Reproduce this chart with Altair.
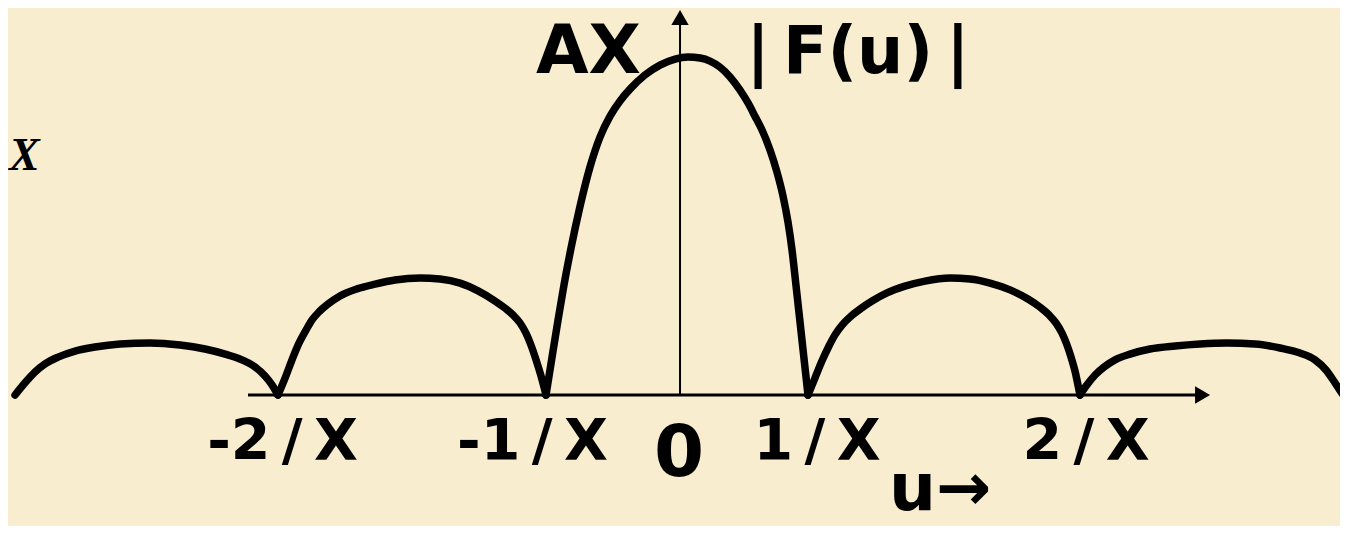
import altair as alt
import pandas as pd

BG = "#F9EDCF"

# Curve |F(u)|: u in units of the main-lobe half width, v relative to the peak AX
outer_left_u = [-5.053, -4.977, -4.901, -4.824, -4.725, -4.595, -4.443, -4.252, -4.023, -3.794, -3.603,
                -3.450, -3.321, -3.221, -3.145, -3.092, -3.046]
outer_left_v = [0.0, 0.036, 0.068, 0.092, 0.112, 0.130, 0.142, 0.151, 0.154, 0.148, 0.136,
                0.121, 0.104, 0.083, 0.056, 0.030, 0.0]

side_left_u = [-3.046, -2.992, -2.939, -2.885, -2.832, -2.786, -2.733, -2.664, -2.573, -2.443, -2.305,
               -2.153, -1.962, -1.809, -1.656, -1.519, -1.389, -1.313, -1.252, -1.198, -1.153, -1.115,
               -1.076, -1.038, -1.0]
side_left_v = [0.0, 0.050, 0.104, 0.154, 0.192, 0.222, 0.246, 0.269, 0.293, 0.314, 0.328,
               0.340, 0.346, 0.343, 0.331, 0.308, 0.278, 0.257, 0.237, 0.213, 0.183, 0.148,
               0.104, 0.056, 0.0]

main_u = [-1.0, -0.954, -0.908, -0.863, -0.809, -0.740, -0.664, -0.588, -0.511, -0.435, -0.359, -0.244,
          -0.130, -0.015, 0.084, 0.176, 0.252, 0.328, 0.405, 0.481, 0.542, 0.595, 0.649, 0.710,
          0.763, 0.809, 0.847, 0.878, 0.908, 0.939, 0.969, 1.0]
main_v = [0.0, 0.112, 0.222, 0.325, 0.435, 0.559, 0.675, 0.763, 0.825, 0.870, 0.905, 0.947,
          0.976, 0.994, 1.0, 0.997, 0.988, 0.970, 0.941, 0.902, 0.864, 0.825, 0.784, 0.725,
          0.660, 0.589, 0.512, 0.429, 0.325, 0.216, 0.109, 0.0]

side_right_u = [1.0, 1.053, 1.107, 1.160, 1.206, 1.260, 1.321, 1.397, 1.489, 1.603, 1.740, 1.893,
                2.084, 2.237, 2.389, 2.542, 2.679, 2.771, 2.840, 2.893, 2.939, 2.977, 3.008, 3.038, 3.076]
side_right_v = [0.0, 0.050, 0.101, 0.145, 0.178, 0.207, 0.231, 0.254, 0.278, 0.302, 0.322, 0.337,
                0.346, 0.343, 0.331, 0.311, 0.284, 0.260, 0.237, 0.213, 0.183, 0.148, 0.112, 0.071, 0.0]

outer_right_u = [3.076, 3.130, 3.191, 3.260, 3.344, 3.458, 3.611, 3.802, 3.992, 4.198, 4.412,
                 4.603, 4.756, 4.870, 4.954, 5.023, 5.084]
outer_right_v = [0.0, 0.030, 0.059, 0.083, 0.104, 0.121, 0.136, 0.145, 0.151, 0.154, 0.151,
                 0.139, 0.124, 0.104, 0.074, 0.036, 0.0]

# Axes (u axis and |F| axis with arrow heads)
h_axis_start, h_axis_end = -3.275, 4.012
v_axis_u, v_axis_end = 0.023, 1.117

# Labels
tick_texts = ["-2\u2009/\u2009X", "-1\u2009/\u2009X", "0", "1\u2009/\u2009X", "2\u2009/\u2009X"]
tick_u = [-3.011, -1.103, 0.015, 1.069, 3.122]
tick_v = [-0.192, -0.192, -0.240, -0.192, -0.192]
tick_size = [57, 57, 72, 57, 57]

title_texts = ["AX", "|\u2009F(u)\u2009|", "u→"]
title_u = [-0.676, 1.382, 2.008]
title_v = [0.953, 0.953, -0.340]
title_size = [68, 65, 66]

side_text = ["X"]
side_u = [-5.099]
side_v = [0.666]


def lobe(name, us, vs):
    return pd.DataFrame({"u": us, "v": vs, "lobe": name})


curve = pd.concat([
    lobe("a", outer_left_u, outer_left_v),
    lobe("b", side_left_u, side_left_v),
    lobe("c", main_u, main_v),
    lobe("d", side_right_u, side_right_v),
    lobe("e", outer_right_u, outer_right_v),
], ignore_index=True)

xs = alt.Scale(domain=[-5.107, 5.061], nice=False, zero=False)
ys = alt.Scale(domain=[-0.3876, 1.145], nice=False, zero=False)
X = lambda f: alt.X(f, type="quantitative", scale=xs, axis=None)
Y = lambda f: alt.Y(f, type="quantitative", scale=ys, axis=None)

line = alt.Chart(curve).mark_line(
    interpolate="monotone", color="black", strokeWidth=7.5, strokeCap="round", strokeJoin="round"
).encode(x=X("u"), y=Y("v"), detail="lobe:N")

h_rule = alt.Chart(pd.DataFrame({"u": [h_axis_start], "u2": [h_axis_end], "v": [0.0]})).mark_rule(
    color="black", strokeWidth=3
).encode(x=X("u"), x2="u2:Q", y=Y("v"))

v_rule = alt.Chart(pd.DataFrame({"u": [v_axis_u], "v": [0.0], "v2": [v_axis_end]})).mark_rule(
    color="black", strokeWidth=2
).encode(x=X("u"), y=Y("v"), y2="v2:Q")

arrows = alt.Chart(pd.DataFrame({
    "u": [h_axis_end, v_axis_u], "v": [0.0, v_axis_end], "shape": ["triangle-right", "triangle-up"]
})).mark_point(filled=True, color="black", size=300, opacity=1).encode(
    x=X("u"), y=Y("v"), shape=alt.Shape("shape:N", scale=None)
)

labels = pd.DataFrame({
    "text": tick_texts + title_texts,
    "u": tick_u + title_u,
    "v": tick_v + title_v,
    "size": tick_size + title_size,
})
text_bold = alt.Chart(labels).mark_text(
    font="DejaVu Sans", fontWeight="bold", align="center", baseline="alphabetic", color="black"
).encode(x=X("u"), y=Y("v"), text="text:N", size=alt.Size("size:Q", scale=None))

text_side = alt.Chart(pd.DataFrame({"text": side_text, "u": side_u, "v": side_v})).mark_text(
    font="Liberation Serif", fontWeight="bold", fontStyle="italic", align="left",
    baseline="alphabetic", fontSize=46, color="black"
).encode(x=X("u"), y=Y("v"), text="text:N")

chart = alt.layer(line, h_rule, v_rule, arrows, text_bold, text_side).properties(
    width=1332, height=518, padding=0, background=BG,
    autosize=alt.AutoSizeParams(type="none"),
).configure_view(stroke=None)

chart.save("out.html", embed_options={"renderer": "svg", "actions": False})
